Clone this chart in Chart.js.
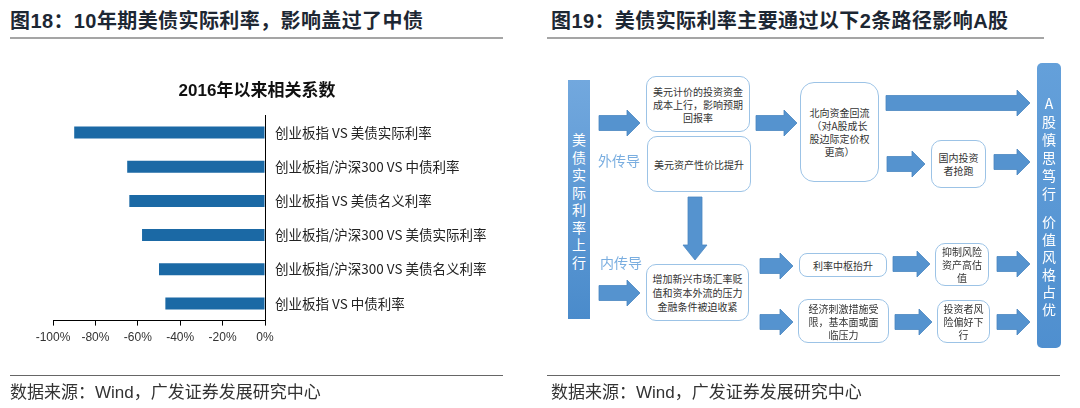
<!DOCTYPE html>
<html>
<head>
<meta charset="utf-8">
<script src="https://cdn.jsdelivr.net/npm/chart.js@4.4.0/dist/chart.umd.min.js"></script>
<style>
body{margin:0;background:#fff;width:1080px;height:408px;overflow:hidden;position:relative;font-family:"Liberation Sans","Noto Sans CJK SC",sans-serif;}
.abs{position:absolute;}
.title{font-size:20px;font-weight:bold;color:#1d2733;line-height:26px;letter-spacing:0.4px;white-space:nowrap;}
.rule{background:#a5a5a5;height:2px;}
.frule{background:#666;height:1px;}
.foot{font-size:17px;color:#333;line-height:20px;white-space:nowrap;}
.box{position:absolute;border:1.5px solid #9cc3e6;border-radius:10px;background:#fff;box-sizing:border-box;display:flex;align-items:center;justify-content:center;text-align:center;font-family:"Noto Sans CJK SC";font-size:10px;line-height:13px;color:#333;}
.vbar{position:absolute;background:linear-gradient(#72a8de,#4a8bcb);}
.vtext{position:absolute;color:#fff;font-family:"Noto Sans CJK SC";font-size:14px;text-align:center;}
.vtext div{height:17.5px;line-height:17.5px;}
.path{position:absolute;font-family:"Noto Sans CJK SC";font-size:14px;line-height:18px;color:#7aaee0;}
#chartBox{position:absolute;left:0;top:45px;width:540px;height:320px;}
svg{position:absolute;left:0;top:0;}
</style>
</head>
<body>
<div class="abs title" style="left:10px;top:8px;">图18：10年期美债实际利率，影响盖过了中债</div>
<div class="abs rule" style="left:10px;top:37px;width:493px;"></div>
<div class="abs title" style="left:551px;top:8px;">图19：美债实际利率主要通过以下2条路径影响A股</div>
<div class="abs rule" style="left:547px;top:37px;width:497px;"></div>

<div id="chartBox"><canvas id="bar"></canvas></div>

<svg id="arrows" width="1080" height="408"></svg>

<div class="vbar" style="left:568px;top:80px;width:22px;height:239px;"></div>
<div class="vtext" style="left:568px;top:131px;width:22px;">
  <div>美</div><div>债</div><div>实</div><div>际</div><div>利</div><div>率</div><div>上</div><div>行</div>
</div>
<div class="vbar" style="left:1037px;top:63px;width:24px;height:285px;border-radius:5px;background:linear-gradient(#64a0da,#4f8fcf);"></div>
<div class="vtext" style="left:1037px;top:94px;width:24px;">
  <div style="height:18px;line-height:18px">A</div><div style="height:18px;line-height:18px">股</div><div style="height:18px;line-height:18px">慎</div><div style="height:18px;line-height:18px">思</div><div style="height:18px;line-height:18px">笃</div><div style="height:18px;line-height:18px">行</div>
  <div style="height:11px"></div>
  <div>价</div><div>值</div><div>风</div><div>格</div><div>占</div><div>优</div>
</div>

<div class="path" style="left:598px;top:151px;">外传导</div>
<div class="path" style="left:600px;top:253px;">内传导</div>

<div class="box" style="left:646px;top:76px;width:104px;height:56px;">美元计价的投资资金<br>成本上行，影响预期<br>回报率</div>
<div class="box" style="left:647px;top:136px;width:104px;height:56px;">美元资产性价比提升</div>
<div class="box" style="left:646px;top:264px;width:103px;height:57px;line-height:14px;">增加新兴市场汇率贬<br>值和资本外流的压力<br>金融条件被迫收紧</div>
<div class="box" style="left:800px;top:82px;width:79px;height:100px;border-radius:14px;">北向资金回流<br>（对A股成长<br>股边际定价权<br>更高）</div>
<div class="box" style="left:931px;top:140px;width:55px;height:48px;">国内投资<br>者抢跑</div>
<div class="box" style="left:799px;top:253px;width:88px;height:24px;border-radius:8px;">利率中枢抬升</div>
<div class="box" style="left:935px;top:243px;width:54px;height:43px;">抑制风险<br>资产高估<br>值</div>
<div class="box" style="left:798px;top:299px;width:91px;height:44px;">经济刺激措施受<br>限，基本面或面<br>临压力</div>
<div class="box" style="left:937px;top:300px;width:53px;height:43px;">投资者风<br>险偏好下<br>行</div>

<div class="abs frule" style="left:10px;top:375px;width:493px;"></div>
<div class="abs foot" style="left:10px;top:383px;">数据来源：Wind，广发证券发展研究中心</div>
<div class="abs frule" style="left:547px;top:375px;width:513px;"></div>
<div class="abs foot" style="left:551px;top:383px;">数据来源：Wind，广发证券发展研究中心</div>

<script>
const categories = [
  '创业板指 VS 美债实际利率',
  '创业板指/沪深300 VS 中债利率',
  '创业板指 VS 美债名义利率',
  '创业板指/沪深300 VS 美债实际利率',
  '创业板指/沪深300 VS 美债名义利率',
  '创业板指 VS 中债利率'
];
const correlation = [-90, -65, -64, -58, -50, -47];
const xMin = -100, xMax = 0, xStep = 20;

Chart.defaults.font.family = '"Liberation Sans", "Noto Sans CJK SC", sans-serif';

// move the chart title so it sits centred over the whole figure like the original
const titlePlace = {
  id: 'titlePlace',
  afterLayout(c) {
    const t = c.titleBlock;
    t.left = 157;
    t.right = 357;
  }
};

new Chart(document.getElementById('bar'), {
  type: 'bar',
  data: {
    labels: categories,
    datasets: [{
      data: correlation,
      backgroundColor: '#1b69a5',
      borderWidth: 0,
      categoryPercentage: 0.7,
      barPercentage: 0.5
    }]
  },
  options: {
    indexAxis: 'y',
    responsive: true,
    maintainAspectRatio: false,
    animation: false,
    layout: { padding: { left: 53, right: 25, top: 0, bottom: 15 } },
    plugins: {
      legend: { display: false },
      tooltip: { enabled: false },
      title: {
        display: true,
        text: '2016年以来相关系数',
        color: '#111',
        font: { size: 17, weight: 'bold' },
        padding: { top: 36, bottom: 14 }
      }
    },
    scales: {
      x: {
        min: xMin,
        max: xMax,
        ticks: {
          stepSize: xStep,
          callback: v => v + '%',
          color: '#333',
          font: { size: 12 },
          padding: 5,
          maxRotation: 0
        },
        grid: { drawOnChartArea: false, tickLength: 5, color: '#000' },
        border: { color: '#000' }
      },
      y: {
        position: 'right',
        grid: { display: false, drawTicks: false },
        border: { display: true, color: '#000' },
        ticks: { color: '#222', font: { family: '"Noto Sans CJK SC"', size: 13.5 }, padding: 10 },
        afterFit: s => { s.width = 250; }
      }
    }
  },
  plugins: [titlePlace]
});

// flow chart arrows: [x1, x2, yc]
const arrowsRight = [
  [599, 640, 123], [599, 640, 293], [756, 797, 123],
  [886, 1030, 103], [887, 925, 164], [994, 1030, 162],
  [760, 793, 266], [760, 793, 322], [893, 930, 264],
  [997, 1030, 264], [895, 932, 322], [997, 1030, 322]
];
const svg = document.getElementById('arrows');
function poly(pts) {
  const p = document.createElementNS('http://www.w3.org/2000/svg', 'polygon');
  p.setAttribute('points', pts.map(q => q.join(',')).join(' '));
  p.setAttribute('fill', '#5593cf');
  p.setAttribute('stroke', '#4a86c0');
  p.setAttribute('stroke-width', '0.8');
  svg.appendChild(p);
}
arrowsRight.forEach(([x1, x2, y]) => {
  const s = 7.5, h = 13, L = 13;
  poly([[x1, y - s], [x2 - L, y - s], [x2 - L, y - h], [x2, y], [x2 - L, y + h], [x2 - L, y + s], [x1, y + s]]);
});
// down arrow
(function () {
  const x = 695, y1 = 197, y2 = 260, s = 7, h = 12, L = 15;
  poly([[x - s, y1], [x + s, y1], [x + s, y2 - L], [x + h, y2 - L], [x, y2], [x - h, y2 - L], [x - s, y2 - L]]);
})();
</script>
</body>
</html>
